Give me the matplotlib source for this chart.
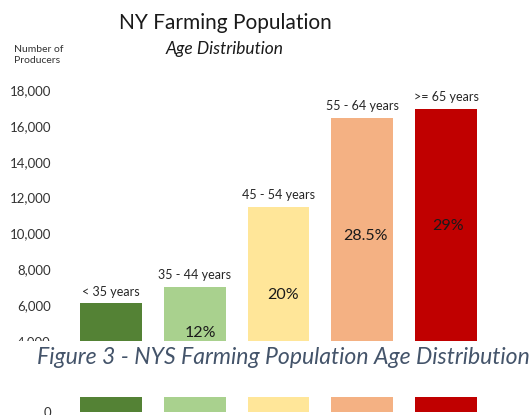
import matplotlib
matplotlib.use("Agg")
import matplotlib.pyplot as plt
from matplotlib.patches import Rectangle

plt.rcParams['font.family'] = ['Lato', 'DejaVu Sans']

# data
age_groups = ["< 35 years", "35 - 44 years", "45 - 54 years", "55 - 64 years", ">= 65 years"]
producers = [6100, 7000, 11500, 16450, 16950]
shares = ["", "12%", "20%", "28.5%", "29%"]
share_y = [0, 4430, 6560, 9830, 10390]
share_dx = [0, 0.07, 0.05, 0.04, 0.03]
colors = ["#548235", "#A9D18E", "#FFE699", "#F4B183", "#C00000"]
yticks = [4000, 6000, 8000, 10000, 12000, 14000, 16000, 18000]

W, H = 532, 415
fig = plt.figure(figsize=(W/100, H/100), dpi=100)

x = list(range(len(age_groups)))
left = 60.75/W
width = 435.5/W

# upper part of the broken axis
ax = fig.add_axes([left, 74/H, width, 261/H])
ax.bar(x, producers, width=0.74, color=colors)
ax.set_xlim(-0.6, 4.6)
ax.set_ylim(3982, 18571)
ax.set_yticks(yticks)
ax.set_yticklabels(["{:,}".format(v) for v in yticks], fontsize=9.5, color="#333333")
ax.set_xticks([])
ax.tick_params(axis='y', length=0, pad=7)
for s in ax.spines.values():
    s.set_visible(False)

for i, lab in enumerate(age_groups):
    ax.annotate(lab, (x[i], producers[i]), xytext=(0, 4), textcoords="offset points",
                ha="center", va="bottom", fontsize=9, color="#262626")
for i, lab in enumerate(shares):
    if lab:
        ax.text(x[i] + share_dx[i], share_y[i], lab, ha="center", va="center",
                fontsize=11.5, color="#1a1a1a")

# lower part (just the base of the bars)
ax2 = fig.add_axes([left, 0, width, 18/H])
ax2.bar(x, producers, width=0.74, color=colors)
ax2.set_xlim(-0.6, 4.6)
ax2.set_ylim(-168, 838)
ax2.set_yticks([0])
ax2.set_yticklabels(["0"], fontsize=9.5, color="#333333")
ax2.set_xticks([])
ax2.tick_params(axis='y', length=0, pad=7)
for s in ax2.spines.values():
    s.set_visible(False)

# white band with caption over the break
fig.patches.append(Rectangle((0, 18/H), 1, (74-18)/H, transform=fig.transFigure,
                             facecolor="white", edgecolor="none", zorder=5))
fig.text(37/W, 1-357/H, "Figure 3 - NYS Farming Population Age Distribution",
         ha="left", va="center", fontsize=16.6, style="italic", color="#44546A", zorder=6)

fig.text(225/W, 1-23/H, "NY Farming Population", ha="center", va="center",
         fontsize=15, color="#1a1a1a")
fig.text(225/W, 1-49/H, "Age Distribution", ha="center", va="center",
         fontsize=12.5, style="italic", color="#1a1a1a")
fig.text(14/W, 1-55/H, "Number of\nProducers", ha="left", va="center",
         fontsize=7.5, color="#333333", linespacing=1.3)

fig.savefig("out.png", dpi=100)
